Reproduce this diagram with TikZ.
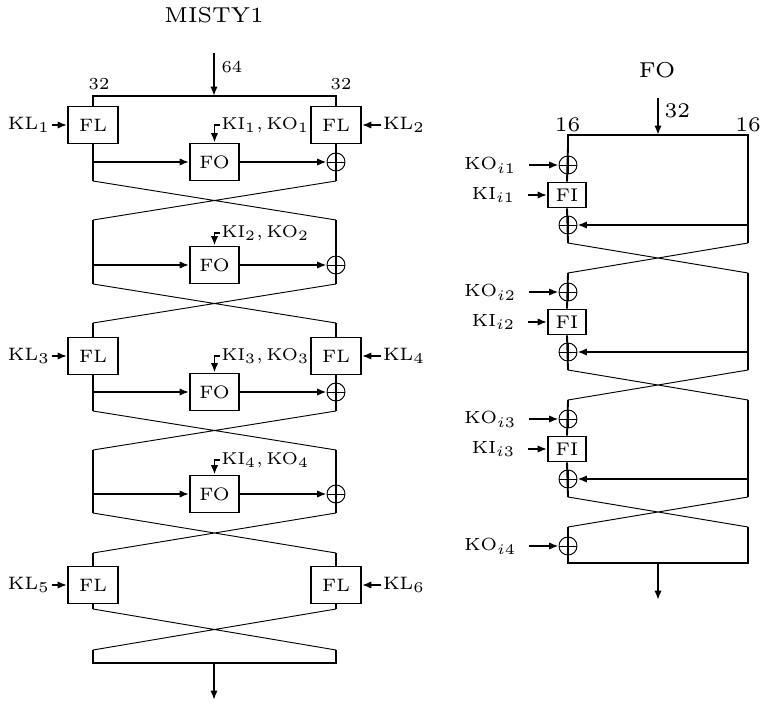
\documentclass[tikz,border=0pt]{standalone}
\usepackage{graphicx}
\usetikzlibrary{arrows.meta}
\newcommand{\lab}[2][2.25]{\scalebox{#1}{\fontsize{6}{7}\selectfont #2}}
\tikzset{
  wire/.style={line width=1.4pt},
  twist/.style={line width=0.7pt},
  arr/.style={wire,-{Latex[length=7pt,width=5.5pt]}},
  lbl/.style={inner sep=1pt},
  fbox/.style={draw,line width=1.4pt,minimum width=37.5pt,minimum height=27.75pt,inner sep=0pt},
  fibox/.style={fbox,minimum width=28.5pt,minimum height=18.75pt},
  xor/.style={circle,draw,line width=0.7pt,minimum size=13.5pt,inner sep=0pt,
    path picture={\draw[line width=0.7pt] (path picture bounding box.west) -- (path picture bounding box.east)
      (path picture bounding box.north) -- (path picture bounding box.south);}},
}
\begin{document}
\begin{tikzpicture}[x=0.75pt,y=-0.75pt]
  \useasboundingbox (0,0) rectangle (760,706);
  \coordinate (L) at (93,0);
  \coordinate (R) at (336,0);
  % MISTY1
  \node (misty) at (214,15) {\lab[2.7]{MISTY1}};
  \coordinate (in) at (214,53);
  \coordinate (top) at (214,96);
  \draw[arr] (in) -- (top);
  \node[lbl,anchor=west] (w64) at (220,67) {\lab[2.1]{64}};
  \node[lbl] (w32a) at (99,84) {\lab[2.1]{32}};
  \node[lbl] (w32b) at (341,84) {\lab[2.1]{32}};
  % FL layers
  \node[fbox] (fl1) at (93,125) {\lab{FL}};
  \node[fbox] (fl2) at (336,125) {\lab{FL}};
  \node[fbox] (fl3) at (93,356) {\lab{FL}};
  \node[fbox] (fl4) at (336,356) {\lab{FL}};
  \node[fbox] (fl5) at (93,585) {\lab{FL}};
  \node[fbox] (fl6) at (336,585) {\lab{FL}};
  \node[lbl] (kl1) at (29,125) {\lab{KL$_1$}};
  \node[lbl] (kl2) at (404,125) {\lab{KL$_2$}};
  \node[lbl] (kl3) at (29,356) {\lab{KL$_3$}};
  \node[lbl] (kl4) at (404,356) {\lab{KL$_4$}};
  \node[lbl] (kl5) at (29,585) {\lab{KL$_5$}};
  \node[lbl] (kl6) at (404,585) {\lab{KL$_6$}};
  \foreach \i in {1,3,5} \draw[arr] (kl\i) -- (fl\i);
  \foreach \i in {2,4,6} \draw[arr] (kl\i) -- (fl\i);
  % FO rounds
  \foreach \i/\y/\k in {1/162/125,2/265/233,3/392/356,4/494/460} {
    \node[fbox,minimum width=36.75pt] (fo\i) at (214.5,\y) {\lab{FO}};
    \node[xor] (x\i) at (336,\y) {};
    \node[lbl,anchor=west] (ki\i) at (220,\k) {\lab[2.15]{$\mathrm{KI}_\i,\mathrm{KO}_\i$}};
    \draw[arr] (ki\i.west) -| (fo\i);
    \draw[arr] (fo\i -| L) -- (fo\i);
    \draw[arr] (fo\i) -- (x\i);
  }
  % wires
  \draw[wire] (fl1.north) -- (93,96) -| (fl2.north);
  \draw[wire] (fl1.south) -- (93,181) (fl2.south) -- (336,181);
  \draw[wire] (93,220) -- (93,284) (336,220) -- (336,284);
  \draw[wire] (93,323) -- (fl3.north) (336,323) -- (fl4.north);
  \draw[wire] (fl3.south) -- (93,411) (fl4.south) -- (336,411);
  \draw[wire] (93,450) -- (93,513) (336,450) -- (336,513);
  \draw[wire] (93,553) -- (fl5.north) (336,553) -- (fl6.north);
  \draw[wire] (fl5.south) -- (93,609) (fl6.south) -- (336,609);
  \draw[wire] (93,650) -- (93,663) -- (336,663) -- (336,650);
  \foreach \ya/\yb in {181/220,284/323,411/450,513/553,609/650}
    \draw[twist] (93,\ya) -- (336,\yb) (336,\ya) -- (93,\yb);
  \coordinate (bot) at (214,663);
  \coordinate (out) at (214,700);
  \draw[arr] (bot) -- (out);

  % FO
  \coordinate (R2) at (748,0);
  \node (fot) at (657,70) {\lab[2.7]{FO}};
  \coordinate (in2) at (658,98);
  \coordinate (top2) at (658,135);
  \draw[arr] (in2) -- (top2);
  \node[lbl,anchor=west] (w32c) at (663,111) {\lab[2.6]{32}};
  \node[lbl] (w16a) at (567.5,125) {\lab[2.6]{16}};
  \node[lbl] (w16b) at (748,125) {\lab[2.6]{16}};
  \draw[wire] (568,150) -- (568,135) -- (748,135) -- (748,150);
  \foreach \i/\b in {1/165,2/292,3/419} {
    \node[xor] (xa\i) at (568,\b) {};
    \node[fibox] (fi\i) at (567,\b+30) {\lab[2.3]{FI}};
    \node[xor] (xb\i) at (568,\b+60) {};
    \node[lbl,anchor=east] (ko\i) at (518,\b) {\lab[2.2]{KO$_{i\i}$}};
    \node[lbl,anchor=east] (kin\i) at (517,\b+30) {\lab[2.2]{KI$_{i\i}$}};
    \draw[arr,shorten <=8pt] (ko\i) -- (xa\i);
    \draw[arr,shorten <=8pt] (kin\i) -- (fi\i);
    \draw[wire] (568,\b-19) -- (fi\i.north) (fi\i.south) -- (568,\b+78);
    \draw[wire] (748,\b-19) -- (748,\b+78);
    \draw[arr] (xb\i -| R2) -- (xb\i);
    \draw[twist] (568,\b+78) -- (748,\b+108) (748,\b+78) -- (568,\b+108);
  }
  \node[xor] (xa4) at (568,546) {};
  \node[lbl,anchor=east] (ko4) at (518,546) {\lab[2.2]{KO$_{i4}$}};
  \draw[arr,shorten <=8pt] (ko4) -- (xa4);
  \draw[wire] (568,527) -- (568,563) -- (748,563) -- (748,527);
  \coordinate (bot2) at (658,563);
  \coordinate (out2) at (658,600);
  \draw[arr] (bot2) -- (out2);
\end{tikzpicture}
\end{document}
